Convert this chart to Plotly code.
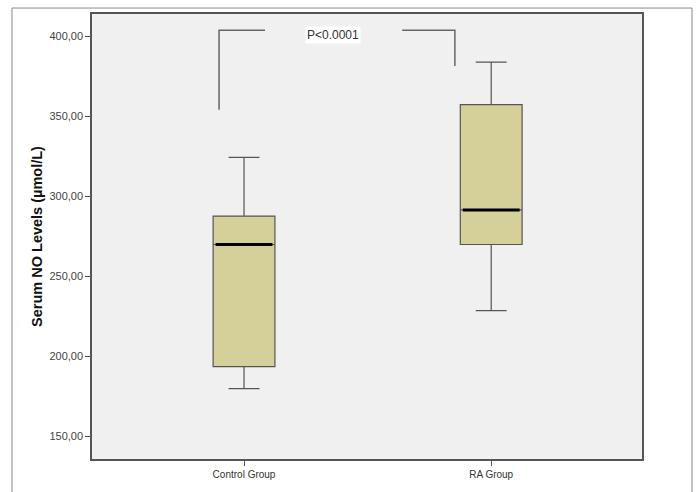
import plotly.graph_objects as go

categories = ["Control Group", "RA Group"]
positions = [0, 1]
lower_whisker = [179.7, 228.4]
q1_values = [193.5, 269.8]
median_values = [269.8, 291.4]
q3_values = [287.6, 357.3]
upper_whisker = [324.3, 383.8]

y_ticks = [150, 200, 250, 300, 350, 400]
y_tick_labels = ["150,00", "200,00", "250,00", "300,00", "350,00", "400,00"]

p_label = "P<0.0001"
bracket_left_x = [-0.101, -0.101, 0.085]
bracket_left_y = [354.1, 403.7, 403.7]
bracket_right_x = [0.64, 0.853, 0.853]
bracket_right_y = [403.7, 403.7, 381.4]

box_width = 0.25
box_fill = "#D5CF99"
edge = "#555555"

fig = go.Figure()
for i, cat in enumerate(categories):
    fig.add_trace(go.Box(
        x=[positions[i]],
        q1=[q1_values[i]], median=[median_values[i]], q3=[q3_values[i]],
        lowerfence=[lower_whisker[i]], upperfence=[upper_whisker[i]],
        width=box_width, whiskerwidth=0.5,
        fillcolor=box_fill, line=dict(color=edge, width=1.2),
        boxpoints=False, showlegend=False, hoverinfo="skip", name=cat,
    ))
    # thick median line
    fig.add_trace(go.Scatter(
        x=[positions[i] - box_width / 2 + 0.01, positions[i] + box_width / 2 - 0.01],
        y=[median_values[i], median_values[i]],
        mode="lines", line=dict(color="black", width=3),
        showlegend=False, hoverinfo="skip",
    ))

fig.add_trace(go.Scatter(x=bracket_left_x, y=bracket_left_y, mode="lines",
                         line=dict(color="#666666", width=1.5), showlegend=False, hoverinfo="skip"))
fig.add_trace(go.Scatter(x=bracket_right_x, y=bracket_right_y, mode="lines",
                         line=dict(color="#666666", width=1.5), showlegend=False, hoverinfo="skip"))

fig.add_annotation(x=0.36, y=400.8, xref="x", yref="y", text=p_label, showarrow=False,
                   font=dict(family="Liberation Sans, Arial", size=12, color="#333333"),
                   bgcolor="white", borderpad=1)

# outer frame
fig.add_shape(type="rect", xref="paper", yref="paper",
              x0=-0.1455, x1=1.0909, y0=-0.1, y1=1.0134,
              line=dict(color="#888888", width=1), layer="below")

fig.update_layout(
    width=696, height=492,
    margin=dict(l=92, r=54, t=12, b=33),
    paper_bgcolor="white", plot_bgcolor="#F0F0F0",
    font=dict(family="Liberation Sans, Arial", size=11, color="#333333"),
    xaxis=dict(range=[-0.615, 1.61], tickvals=positions, ticktext=categories,
               showgrid=False, zeroline=False, ticks="outside", ticklen=5,
               tickcolor="#555555", tickfont=dict(size=10, color="#333333"),
               showline=True, linecolor="#555555", linewidth=1.5, mirror=True),
    yaxis=dict(range=[135.7, 413.9], tickvals=y_ticks, ticktext=y_tick_labels,
               showgrid=False, zeroline=False, ticks="outside", ticklen=5,
               tickcolor="#555555", tickfont=dict(size=11, color="#444444"),
               showline=True, linecolor="#555555", linewidth=1.5, mirror=True,
               title=dict(text="<b>Serum NO Levels (µmol/L)</b>",
                          font=dict(size=14.5, color="#111111"), standoff=3)),
)

fig.write_html("out.html", config={"displayModeBar": False},
               post_script="document.body.style.margin='0';document.body.style.overflow='hidden';")
